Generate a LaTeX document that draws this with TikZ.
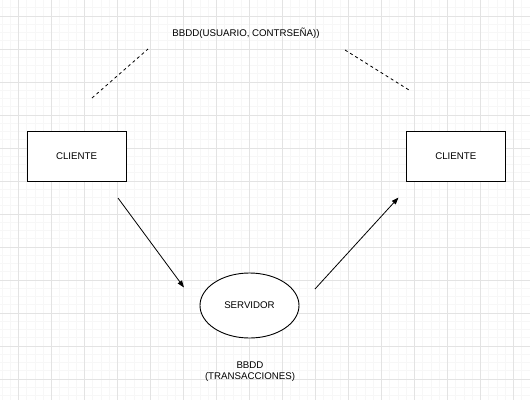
\documentclass[tikz,border=0pt]{standalone}
\usepackage{fontspec}
\setmainfont{Liberation Sans}
\usetikzlibrary{shapes.geometric,arrows.meta}
\begin{document}
\begin{tikzpicture}[x=1pt, y=-1pt, font=\fontsize{9.7}{11}\selectfont,
    minorgrid/.style={draw=gray!6, line width=0.6pt},
    majorgrid/.style={draw=gray!22, line width=0.8pt},
    client/.style={draw, line width=0.9pt, minimum width=99pt, minimum height=50pt},
    server/.style={draw, ellipse, line width=0.9pt, minimum width=99pt, minimum height=65pt},
    link/.style={-{Triangle[length=7pt,width=5pt]}, line width=0.8pt},
    dbline/.style={dash pattern=on 3pt off 3pt, line width=0.8pt}]
    \useasboundingbox (0,0) rectangle (530,400);
    \foreach \k in {-2,...,62}{
       \draw[minorgrid] ({18.3+8.25*\k},0) -- ++(0,400);
    }
    \foreach \k in {-1,...,46}{
       \draw[minorgrid] (0,{16+8.25*\k}) -- ++(530,0);
    }
    \foreach \k in {0,...,15}{
       \draw[majorgrid] ({18.3+33*\k},0) -- ++(0,400);
    }
    \foreach \k in {0,...,11}{
       \draw[majorgrid] (0,{16+33*\k}) -- ++(530,0);
    }
    \node[client, fill=white] (cliL) at (76.5,156.5) {CLIENTE};
    \node[client, fill=white] (cliR) at (455.8,156.5) {CLIENTE};
    \node[server, fill=white] (srv) at (249.5,305.5) {SERVIDOR};
    \node[align=center] (bbddsrv) at (250,371.5) {BBDD\\(TRANSACCIONES)};
    \node (bbddusr) at (246,33) {BBDD(USUARIO, CONTRSEÑA))};
    \coordinate (inA) at (118,198);
    \coordinate (inB) at (184,287.5);
    \coordinate (outA) at (315,289);
    \coordinate (outB) at (398.5,197.5);
    \coordinate (dbL1) at (92,98);
    \coordinate (dbL2) at (148,49);
    \coordinate (dbR1) at (345,50);
    \coordinate (dbR2) at (409,90);
    \draw[link] (inA) -- (inB);
    \draw[link] (outA) -- (outB);
    \draw[dbline] (dbL1) -- (dbL2);
    \draw[dbline] (dbR1) -- (dbR2);
\end{tikzpicture}
\end{document}
